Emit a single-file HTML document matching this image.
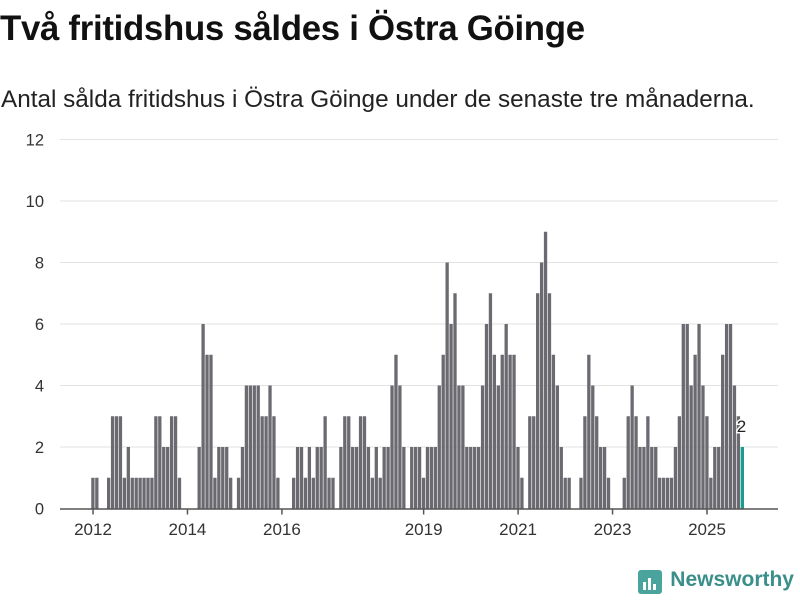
<!DOCTYPE html>
<html><head><meta charset="utf-8"><style>
body{margin:0;width:800px;height:600px;background:#fff;font-family:"Liberation Sans",sans-serif;position:relative;overflow:hidden}
h1{position:absolute;left:0;top:9px;margin:0;font-size:34.8px;font-weight:bold;color:#111;letter-spacing:-0.3px;white-space:nowrap}
.sub{position:absolute;left:1px;top:86px;margin:0;font-size:24.3px;color:#222;white-space:nowrap}
svg{position:absolute;left:0;top:0}
.logo{position:absolute;right:6px;top:568px;font-size:21px;font-weight:bold;color:#3a8f8a}
</style></head><body>
<h1>Två fritidshus såldes i Östra Göinge</h1>
<p class="sub">Antal sålda fritidshus i Östra Göinge under de senaste tre månaderna.</p>
<svg id="chart" width="800" height="600"></svg>
<div class="logo"><svg width="24" height="24" style="position:absolute;left:-32px;top:2px"><rect x="0" y="0" width="24" height="24" rx="3" fill="#4aa39d"/><rect x="5" y="12" width="3" height="8" fill="#fff"/><rect x="10" y="8" width="3" height="12" fill="#fff"/><rect x="15" y="14" width="3" height="6" fill="#fff"/></svg>Newsworthy</div>
<script>
const values=[1,1,0,0,1,3,3,3,1,2,1,1,1,1,1,1,3,3,2,2,3,3,1,0,0,0,0,2,6,5,5,1,2,2,2,1,0,1,2,4,4,4,4,3,3,4,3,1,0,0,0,1,2,2,1,2,1,2,2,3,1,1,0,2,3,3,2,2,3,3,2,1,2,1,2,2,4,5,4,2,0,2,2,2,1,2,2,2,4,5,8,6,7,4,4,2,2,2,2,4,6,7,5,4,5,6,5,5,2,1,0,3,3,7,8,9,7,5,4,2,1,1,0,0,1,3,5,4,3,2,2,1,0,0,0,1,3,4,3,2,2,3,2,2,1,1,1,1,2,3,6,6,4,5,6,4,3,1,2,2,5,6,6,4,3,2];
const startYear=2012;
const yTicks=[0,2,4,6,8,10,12];
const xTickYears=[2012,2014,2016,2019,2021,2023,2025];
const NS="http://www.w3.org/2000/svg";
const svg=document.getElementById('chart');
const y0=508.5, yPer=30.75, x0=93, mw=3.936;
const ys=v=>y0-v*yPer;
const xs=i=>x0+i*mw;
function mk(t,a){const e=document.createElementNS(NS,t);for(const k in a)e.setAttribute(k,a[k]);svg.appendChild(e);return e;}
yTicks.forEach(t=>{
  if(t>0){const g=mk('line',{x1:60,x2:778,y1:ys(t),y2:ys(t),stroke:'#e2e2e2','stroke-width':1});
  
  }
  const l=mk('text',{x:44,y:ys(t)+6,'text-anchor':'end','font-size':16.5,fill:'#333','font-family':'Liberation Sans, sans-serif'});
  l.textContent=t;
  
  
});
values.forEach((v,i)=>{
  if(v<=0)return;
  const last=i===values.length-1;
  const r=mk('rect',{x:xs(i)-1.75,y:ys(v),width:3.3,height:v*yPer,fill:last?'#1a9a90':'#6b6a70'});
  
  
});
const ax=mk('line',{x1:60,x2:778,y1:y0+0.5,y2:y0+0.5,stroke:'#555','stroke-width':1.5});


xTickYears.forEach(yr=>{
  const x=xs((yr-startYear)*12);
  const t=mk('line',{x1:x,x2:x,y1:y0,y2:y0+6,stroke:'#555','stroke-width':1.5});
  
  
  const l=mk('text',{x:x,y:535,'text-anchor':'middle','font-size':17,fill:'#333','font-family':'Liberation Sans, sans-serif'});
  l.textContent=yr;
  
  
});
const li=values.length-1;
const vl=mk('text',{x:xs(li)-1,y:ys(values[li])-15,'text-anchor':'middle','font-size':17,fill:'#222',stroke:'#fff','stroke-width':3,'paint-order':'stroke','font-family':'Liberation Sans, sans-serif'});
vl.textContent=values[li];


</script>
</body></html>
